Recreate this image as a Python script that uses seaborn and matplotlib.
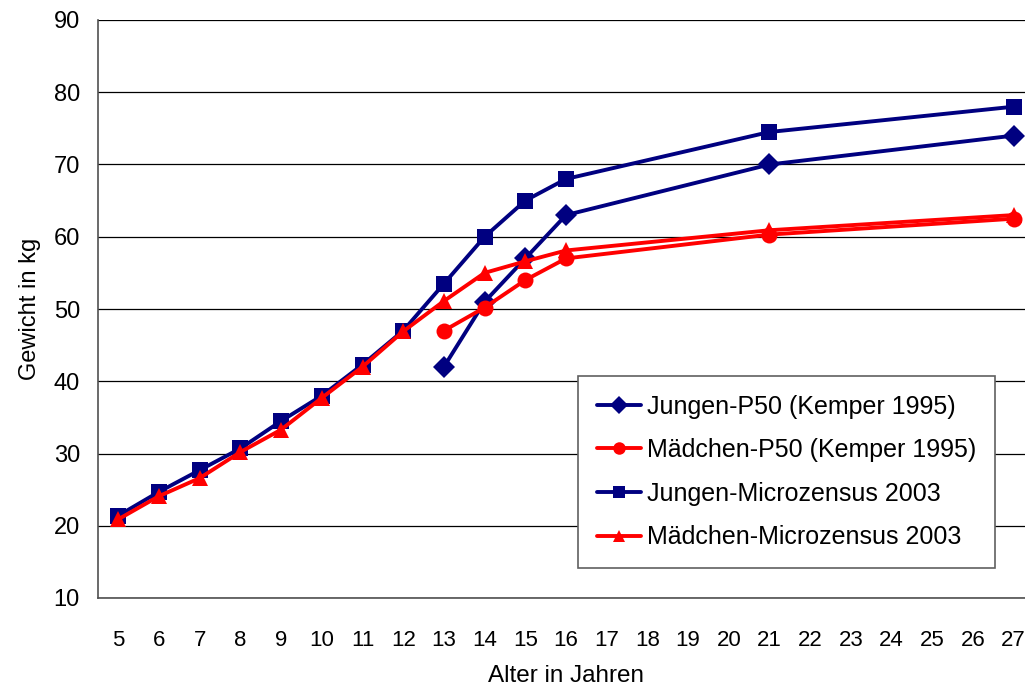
import matplotlib
matplotlib.use("Agg")
import matplotlib.pyplot as plt
import seaborn as sns
import pandas as pd
import copy

# ---- data ----
ages_all = list(range(5, 28))
ages_mz = [5, 6, 7, 8, 9, 10, 11, 12, 13, 14, 15, 16, 21, 27]
ages_p50 = [13, 14, 15, 16, 21, 27]

jungen_p50 = [42, 51, 57, 63, 70, 74]
maedchen_p50 = [47, 50.2, 54, 57, 60.3, 62.5]
jungen_mz = [21.4, 24.7, 27.7, 30.7, 34.5, 38.0, 42.3, 47.0, 53.5, 60, 65, 68, 74.5, 78]
maedchen_mz = [20.9, 24.1, 26.6, 30.2, 33.3, 37.7, 42.0, 46.9, 51.1, 55, 56.6, 58.1, 60.9, 63.0]

series_names = ["Jungen-P50 (Kemper 1995)", "Mädchen-P50 (Kemper 1995)",
                "Jungen-Microzensus 2003", "Mädchen-Microzensus 2003"]

rows = []
for name, xs, ys in [(series_names[0], ages_p50, jungen_p50),
                     (series_names[1], ages_p50, maedchen_p50),
                     (series_names[2], ages_mz, jungen_mz),
                     (series_names[3], ages_mz, maedchen_mz)]:
    for x, y in zip(xs, ys):
        rows.append({"Alter": x, "Gewicht": y, "Serie": name})
df = pd.DataFrame(rows)

navy = "#000080"
red = "#FF0000"
palette = {series_names[0]: navy, series_names[1]: red,
           series_names[2]: navy, series_names[3]: red}
markers = {series_names[0]: "D", series_names[1]: "o",
           series_names[2]: "s", series_names[3]: "^"}

sns.set_style("white")
plt.rcParams["font.family"] = ["Liberation Sans", "DejaVu Sans"]
plt.rcParams["text.color"] = "black"
plt.rcParams["axes.labelcolor"] = "black"
plt.rcParams["xtick.color"] = "black"
plt.rcParams["ytick.color"] = "black"

fig = plt.figure(figsize=(10.25, 6.86), dpi=100)
ax = fig.add_axes([98 / 1025, 88 / 686, 936 / 1025, 578 / 686])

sns.lineplot(data=df, x="Alter", y="Gewicht", hue="Serie", style="Serie",
             hue_order=series_names, style_order=series_names,
             palette=palette, markers=markers, dashes=False,
             markersize=11.5, linewidth=2.8, markeredgewidth=0,
             sort=True, ax=ax, zorder=3, clip_on=False)

ax.set_xlim(4.5, 27.5)
ax.set_ylim(10, 90)
ax.set_yticks(range(10, 91, 10))
ax.set_xticks(ages_all)
ax.set_xticklabels([str(a) for a in ages_all])
ax.set_xticks([a - 0.5 for a in ages_all] + [27.5], minor=True)
ax.tick_params(axis="x", which="major", length=0, pad=23, labelsize=16)
ax.tick_params(axis="x", which="minor", length=6, width=1, color="#404040", direction="out")
ax.tick_params(axis="y", which="major", length=6, width=1, color="#404040",
               direction="out", labelsize=17, pad=7)

ax.grid(axis="y", color="#000000", linewidth=0.9, zorder=0)
ax.set_axisbelow(True)
for s in ["top", "right"]:
    ax.spines[s].set_visible(False)
for s in ["left", "bottom"]:
    ax.spines[s].set_color("#505050")
    ax.spines[s].set_linewidth(1.2)

ax.set_xlabel("Alter in Jahren", fontsize=17.5, labelpad=10)
ax.set_ylabel("Gewicht in kg", fontsize=17, labelpad=9)

handles, labels = ax.get_legend_handles_labels()
new_handles = []
for h in handles:
    h2 = copy.copy(h)
    h2.set_markersize(9)
    new_handles.append(h2)
if ax.get_legend():
    ax.get_legend().remove()
leg = ax.legend(new_handles, labels, loc="upper left",
                bbox_to_anchor=(578 / 1025, 1 - 376 / 686),
                bbox_transform=fig.transFigure, borderaxespad=0,
                fontsize=18, frameon=True, fancybox=False,
                edgecolor="#606060", framealpha=1, handlelength=1.75,
                handletextpad=0.25, labelspacing=0.78, borderpad=0.75)
leg.get_frame().set_linewidth(1.2)

fig.savefig("out.png", dpi=100)
